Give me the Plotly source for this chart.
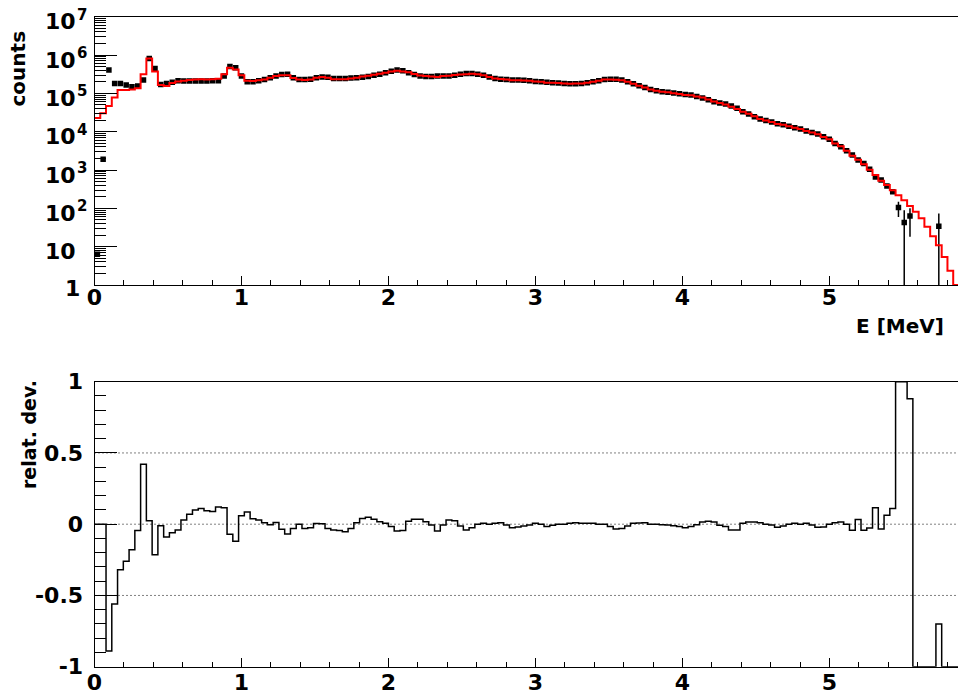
import plotly.graph_objects as go

# ---------------- data ----------------
E_MIN = 0.0
E_MAX = 5.92
N_BINS = 151

# measured spectrum, log10(counts); None = empty bin
data_log10 = [
    0.80, 3.28, 5.61, 5.26, 5.26, 5.22, 5.17, 5.19, 5.35, 5.91,
    5.65, 5.23, 5.26, 5.29, 5.33, 5.32, 5.32, 5.32, 5.32, 5.32,
    5.33, 5.33, 5.45, 5.70, 5.67, 5.45, 5.30, 5.30, 5.33, 5.36,
    5.41, 5.45, 5.49, 5.50, 5.41, 5.36, 5.36, 5.37, 5.41, 5.43,
    5.42, 5.39, 5.39, 5.39, 5.40, 5.41, 5.42, 5.44, 5.47, 5.50,
    5.54, 5.58, 5.61, 5.59, 5.54, 5.49, 5.45, 5.44, 5.44, 5.45,
    5.45, 5.45, 5.47, 5.50, 5.52, 5.52, 5.50, 5.47, 5.43, 5.39,
    5.37, 5.36, 5.35, 5.35, 5.34, 5.33, 5.31, 5.30, 5.29, 5.28,
    5.27, 5.26, 5.25, 5.25, 5.26, 5.28, 5.30, 5.33, 5.36, 5.37,
    5.37, 5.35, 5.30, 5.25, 5.20, 5.15, 5.10, 5.07, 5.04, 5.03,
    5.01, 4.99, 4.97, 4.96, 4.92, 4.88, 4.83, 4.78, 4.75, 4.72,
    4.67, 4.61, 4.52, 4.46, 4.39, 4.33, 4.29, 4.25, 4.21, 4.18,
    4.14, 4.10, 4.07, 4.02, 3.98, 3.94, 3.87, 3.80, 3.69, 3.61,
    3.50, 3.39, 3.26, 3.17, 3.02, 2.82, 2.74, 2.58, 2.43, 2.02,
    1.63, 1.80, None, None, None, None, 1.53, None, None, None,
    1.19,
]

# simulated spectrum (red), log10(counts); None = empty bin
model_log10 = [
    4.36, 4.48, 4.67, 4.89, 5.09, 5.09, 5.10, 5.13, 5.50, 5.91,
    5.57, 5.22, 5.19, 5.27, 5.31, 5.33, 5.35, 5.36, 5.37, 5.36,
    5.37, 5.38, 5.50, 5.67, 5.62, 5.47, 5.33, 5.32, 5.34, 5.36,
    5.41, 5.45, 5.475, 5.47, 5.40, 5.36, 5.35, 5.36, 5.41, 5.43,
    5.41, 5.37, 5.37, 5.37, 5.39, 5.41, 5.44, 5.46, 5.485, 5.51,
    5.54, 5.57, 5.59, 5.57, 5.55, 5.505, 5.465, 5.45, 5.44, 5.43,
    5.45, 5.46, 5.48, 5.49, 5.50, 5.51, 5.50, 5.47, 5.43, 5.39,
    5.375, 5.36, 5.34, 5.34, 5.335, 5.33, 5.31, 5.30, 5.28, 5.28,
    5.27, 5.26, 5.25, 5.255, 5.26, 5.28, 5.30, 5.33, 5.36, 5.36,
    5.355, 5.34, 5.30, 5.25, 5.20, 5.15, 5.10, 5.07, 5.04, 5.03,
    5.005, 4.985, 4.96, 4.95, 4.92, 4.89, 4.84, 4.79, 4.75, 4.71,
    4.65, 4.59, 4.52, 4.47, 4.40, 4.33, 4.29, 4.25, 4.20, 4.18,
    4.14, 4.10, 4.07, 4.02, 3.98, 3.93, 3.86, 3.80, 3.695, 3.62,
    3.50, 3.37, 3.27, 3.15, 3.01, 2.87, 2.72, 2.61, 2.475, 2.34,
    2.21, 2.06, 1.91, 1.74, 1.52, 1.27, 1.04, 0.73, 0.37, None,
    None,
]

# relative deviation per bin
rel_dev = [
    0.0, 0.0, -0.89, -0.56, -0.32, -0.26, -0.18, -0.045, 0.42, 0.025,
    -0.215, -0.01, -0.09, -0.06, -0.04, 0.03, 0.07, 0.10, 0.11, 0.095,
    0.09, 0.12, 0.115, -0.07, -0.12, 0.06, 0.085, 0.038, 0.03, 0.01,
    -0.003, 0.012, -0.035, -0.068, -0.03, 0.0, -0.03, -0.025, 0.005, 0.003,
    -0.03, -0.04, -0.045, -0.053, -0.03, 0.01, 0.04, 0.048, 0.034, 0.018,
    0.006, -0.017, -0.048, -0.045, 0.02, 0.034, 0.034, 0.018, -0.006, -0.048,
    -0.006, 0.03, 0.025, -0.013, -0.04, -0.025, 0.0, 0.006, 0.0, 0.006,
    0.01, -0.006, -0.025, -0.02, -0.013, -0.006, 0.006, 0.0, -0.017, -0.008,
    0.0, 0.0, 0.006, 0.01, 0.006, 0.006, 0.006, 0.0, 0.0, -0.017,
    -0.034, -0.03, -0.013, 0.006, 0.008, 0.01, 0.0, 0.0, -0.003, -0.006,
    -0.01, -0.017, -0.025, -0.017, -0.003, 0.015, 0.02, 0.015, -0.008, -0.017,
    -0.04, -0.04, 0.006, 0.015, 0.015, 0.01, 0.0, -0.006, -0.022, -0.013,
    0.0, 0.006, 0.0, 0.006, -0.006, -0.022, -0.02, 0.0, 0.01, 0.015,
    0.0, -0.043, 0.033, -0.043, -0.026, 0.115, -0.033, 0.063, 0.11, 1.1,
    2.8, 0.88, -1.0, -1.0, -1.0, -1.0, -0.70, -1.0, -1.0, -1.0,
    -0.98,
]

# visible error bars (bin index, +err, -err) in counts
err_bins = [139, 140, 141, 146, 150]
err_up = [43, 46, 37, 40, 39]
err_down = [45, 46, 45, 40, 39]

# tick labels
y_top_decades = [0, 1, 2, 3, 4, 5, 6, 7]          # log10 of tick values
y_top_base = ["1", "10", "10", "10", "10", "10", "10", "10"]
y_top_exp = ["", "", "2", "3", "4", "5", "6", "7"]
y_bot_tickvals = [-1, -0.5, 0, 0.5, 1]
y_bot_ticktext = ["-1", "-0.5", "0", "0.5", "1"]
x_tickvals = [0, 1, 2, 3, 4, 5]
x_ticktext = ["0", "1", "2", "3", "4", "5"]

# ---------------- derived plotting arrays ----------------
bw = (E_MAX - E_MIN) / N_BINS
centers = [E_MIN + (i + 0.5) * bw for i in range(N_BINS)]
edges = [E_MIN + i * bw for i in range(N_BINS + 1)]

counts = [None if v is None else 10 ** v for v in data_log10]
model = [0.0 if v is None else 10 ** v for v in model_log10]
# ROOT draws bins outside the frame at the frame edge
model_plot = [max(m, 1.0) for m in model]
dev_plot = [min(max(d, -1.0), 1.0) for d in rel_dev]

eu = [0.0] * N_BINS
ed = [0.0] * N_BINS
for b, u, d in zip(err_bins, err_up, err_down):
    eu[b] = u
    ed[b] = d

# ---------------- geometry (window pixels) ----------------
OFF = 8                      # default page margin of the html body
WIN_W, WIN_H = 966, 696
W, H = WIN_W - OFF, WIN_H - OFF
L = 94.5
PX_PER_MEV = 147.0
X_RANGE = [0.0, (WIN_W - L) / PX_PER_MEV]
TOP = (16.7, 285.0)
BOT = (381.7, 666.7)


def py(p):
    return 1 - (p - OFF) / H


def px(p):
    return (p - OFF) / W


FONT = "DejaVu Sans"
TICK_SIZE = 22
tickfont = dict(family=FONT, size=TICK_SIZE, color="black", weight="bold")

fig = go.Figure()

# data points
fig.add_trace(go.Scatter(
    x=centers, y=counts, mode="markers",
    marker=dict(symbol="square", size=5.5, color="black"),
    error_y=dict(type="data", symmetric=False, array=eu, arrayminus=ed,
                 color="black", thickness=1.5, width=0),
    xaxis="x", yaxis="y", showlegend=False, hoverinfo="skip",
))
# simulation histogram
fig.add_trace(go.Scatter(
    x=edges, y=model_plot + [model_plot[-1]], mode="lines",
    line=dict(color="#ff0000", width=2, shape="hv"),
    xaxis="x", yaxis="y", showlegend=False, hoverinfo="skip",
))
# relative deviation histogram
fig.add_trace(go.Scatter(
    x=edges, y=dev_plot + [dev_plot[-1]], mode="lines",
    line=dict(color="black", width=1.5, shape="hv"),
    xaxis="x2", yaxis="y2", showlegend=False, hoverinfo="skip",
))

shapes = []
for yv in [0.5, 0.0, -0.5]:
    shapes.append(dict(type="line", xref="x2 domain", yref="y2",
                       x0=0, x1=1, y0=yv, y1=yv, layer="below",
                       line=dict(color="black", width=1, dash="1px,3px")))

minor_log = [k * 10 ** d for d in range(0, 7) for k in range(2, 10)]

common_x = dict(
    range=X_RANGE, domain=[px(L), 1.0],
    showline=True, linecolor="black", linewidth=1, mirror=True,
    ticks="inside", ticklen=9, tickwidth=1, tickcolor="black",
    tickmode="array", tickvals=x_tickvals, ticktext=x_ticktext,
    minor=dict(ticks="inside", ticklen=5, tickwidth=1, tickcolor="black",
               dtick=0.2, tick0=0, showgrid=False),
    tickfont=tickfont, showgrid=False, zeroline=False,
    automargin=False, ticklabeloverflow="allow",
)

annotations = [
    dict(text="counts", xref="paper", yref="paper", x=px(18), y=py(68.5),
         xanchor="center", yanchor="middle", textangle=-90, showarrow=False,
         borderpad=0,
         font=dict(family=FONT, size=20, color="black", weight="bold")),
    dict(text="relat. dev.", xref="paper", yref="paper", x=px(29), y=py(435),
         xanchor="center", yanchor="middle", textangle=-90, showarrow=False,
         borderpad=0,
         font=dict(family=FONT, size=19, color="black", weight="bold")),
    dict(text="E [MeV]", xref="paper", yref="paper", x=px(946), y=py(326),
         xanchor="right", yanchor="middle", showarrow=False,
         font=dict(family=FONT, size=20, color="black", weight="bold")),
]
# ROOT-style log tick labels: base "10" with a raised exponent
for dec, base, ex in zip(y_top_decades, y_top_base, y_top_exp):
    annotations.append(dict(
        text=base, xref="paper", yref="y", x=px(81 if base == "1" else 77),
        y=dec, xanchor="right", yanchor="middle", showarrow=False,
        yshift=-3 if base == "1" else -5, borderpad=0,
        font=dict(family=FONT, size=TICK_SIZE, color="black", weight="bold")))
    if ex:
        annotations.append(dict(
            text=ex, xref="paper", yref="y", x=px(76), y=dec,
            xanchor="left", yanchor="middle", showarrow=False,
            yshift=2, borderpad=0,
            font=dict(family=FONT, size=15, color="black", weight="bold")))

fig.update_layout(
    width=W, height=H,
    margin=dict(l=0, r=0, t=0, b=0),
    paper_bgcolor="white", plot_bgcolor="white",
    xaxis=dict(anchor="y", ticklabelstandoff=-7, **common_x),
    xaxis2=dict(anchor="y2", ticklabelstandoff=-4, **common_x),
    yaxis=dict(
        type="log", range=[0, 7], domain=[py(TOP[1]), py(TOP[0])],
        anchor="x", showline=True, linecolor="black", linewidth=1,
        ticks="inside", ticklen=22, tickwidth=1, tickcolor="black",
        tickmode="array", tickvals=[10 ** d for d in y_top_decades],
        showticklabels=False,
        minor=dict(ticks="inside", ticklen=11, tickwidth=1, tickcolor="black",
                   tickmode="array", tickvals=minor_log, showgrid=False),
        showgrid=False, zeroline=False, automargin=False,
    ),
    yaxis2=dict(
        range=[-1, 1], domain=[py(BOT[1]), py(BOT[0])],
        anchor="x2", showline=True, linecolor="black", linewidth=1,
        ticks="inside", ticklen=22, tickwidth=1, tickcolor="black",
        tickmode="array", tickvals=y_bot_tickvals, ticktext=y_bot_ticktext,
        minor=dict(ticks="inside", ticklen=11, tickwidth=1, tickcolor="black",
                   dtick=0.1, tick0=0, showgrid=False),
        tickfont=tickfont, showgrid=False, zeroline=False,
        ticklabelstandoff=6, automargin=False, ticklabeloverflow="allow",
    ),
    shapes=shapes,
    annotations=annotations,
)

fig.write_html("out.html")
